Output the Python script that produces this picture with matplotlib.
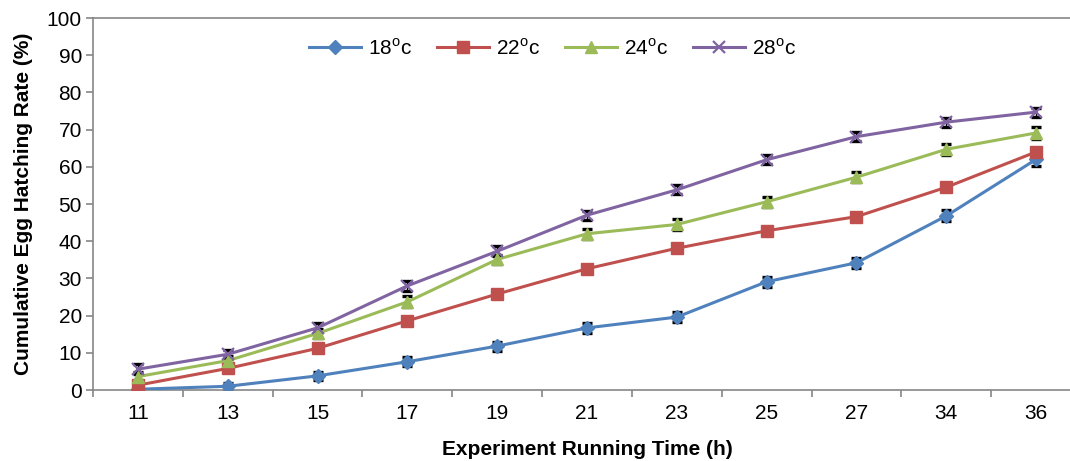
import numpy as np
import matplotlib.pyplot as plt

plt.rcParams['font.family'] = ['Liberation Sans', 'DejaVu Sans']

hours = ['11', '13', '15', '17', '19', '21', '23', '25', '27', '34', '36']
labels = ['18$^{\\mathregular{o}}$c', '22$^{\\mathregular{o}}$c',
          '24$^{\\mathregular{o}}$c', '28$^{\\mathregular{o}}$c']

rate_18 = [0.2, 1.0, 3.8, 7.6, 11.8, 16.7, 19.6, 29.1, 34.2, 46.8, 62.0]
rate_22 = [1.3, 5.8, 11.2, 18.6, 25.8, 32.6, 38.1, 42.8, 46.6, 54.5, 64.0]
rate_24 = [3.6, 7.9, 15.2, 23.7, 35.1, 42.0, 44.5, 50.6, 57.2, 64.7, 69.1]
rate_28 = [5.6, 9.6, 16.7, 28.0, 37.3, 47.0, 53.8, 61.9, 68.1, 72.0, 74.7]

err_18 = [0.6, 0.8, 1.0, 1.2, 1.2, 1.3, 1.3, 1.4, 1.4, 1.5, 1.8]
err_22 = [0.8, 0.8, 0.9, 1.0, 1.0, 1.0, 1.0, 1.0, 1.0, 1.0, 1.1]
err_24 = [1.2, 1.2, 1.3, 1.5, 1.3, 1.4, 1.4, 1.4, 1.4, 1.4, 1.5]
err_28 = [1.3, 1.2, 1.2, 1.4, 1.3, 1.2, 1.2, 1.2, 1.2, 1.2, 1.2]

series = [
    (rate_18, err_18, '#4F81BD', 'D', 7.5),
    (rate_22, err_22, '#C0504D', 's', 8.5),
    (rate_24, err_24, '#9BBB59', '^', 8.8),
    (rate_28, err_28, '#8064A2', 'x', 8),
]

fig = plt.figure(figsize=(10.7, 4.61), dpi=100)
# plot area runs a bit past the right edge of the figure
ax = fig.add_axes([93 / 1070, 71 / 461, 988 / 1070, 372 / 461])

x = np.arange(len(hours))
for (vals, errs, col, mk, ms), lab in zip(series, labels):
    # error bars sit behind the markers
    ax.errorbar(x, vals, yerr=errs, fmt='none', ecolor='black', elinewidth=1.0,
                capsize=3.3, capthick=2.4, zorder=2)
    ax.plot(x, vals, color=col, lw=2.2, marker=mk, ms=ms, mew=1.6 if mk == 'x' else 1,
            mec=col, mfc=col, label=lab, zorder=3)

ax.set_xlim(-0.5, 10.5)
ax.set_ylim(0, 100)
ax.set_yticks(np.arange(0, 101, 10))
ax.set_xticks(x)
ax.set_xticklabels(hours)
ax.set_xticks(np.arange(-0.5, 10.6, 1), minor=True)
ax.tick_params(axis='x', which='major', length=0, pad=10, labelsize=15)
ax.tick_params(axis='x', which='minor', length=5, color='#868686', width=1.2)
ax.tick_params(axis='y', length=5, color='#868686', width=1.2, labelsize=15, pad=3)

for side in ['left', 'bottom', 'top']:
    ax.spines[side].set_color('#868686')
    ax.spines[side].set_linewidth(1.2)
ax.spines['right'].set_visible(False)

ax.set_xlabel('Experiment Running Time (h)', fontsize=15, fontweight='bold', labelpad=12)
ax.set_ylabel('Cumulative Egg Hatching Rate (%)', fontsize=15, fontweight='bold', labelpad=10)

ax.legend(loc='center', bbox_to_anchor=(0.465, 0.919), ncol=4, frameon=False,
          fontsize=15, handlelength=2.5, columnspacing=1.2, handletextpad=0.33)

fig.savefig('out.png', dpi=100)
